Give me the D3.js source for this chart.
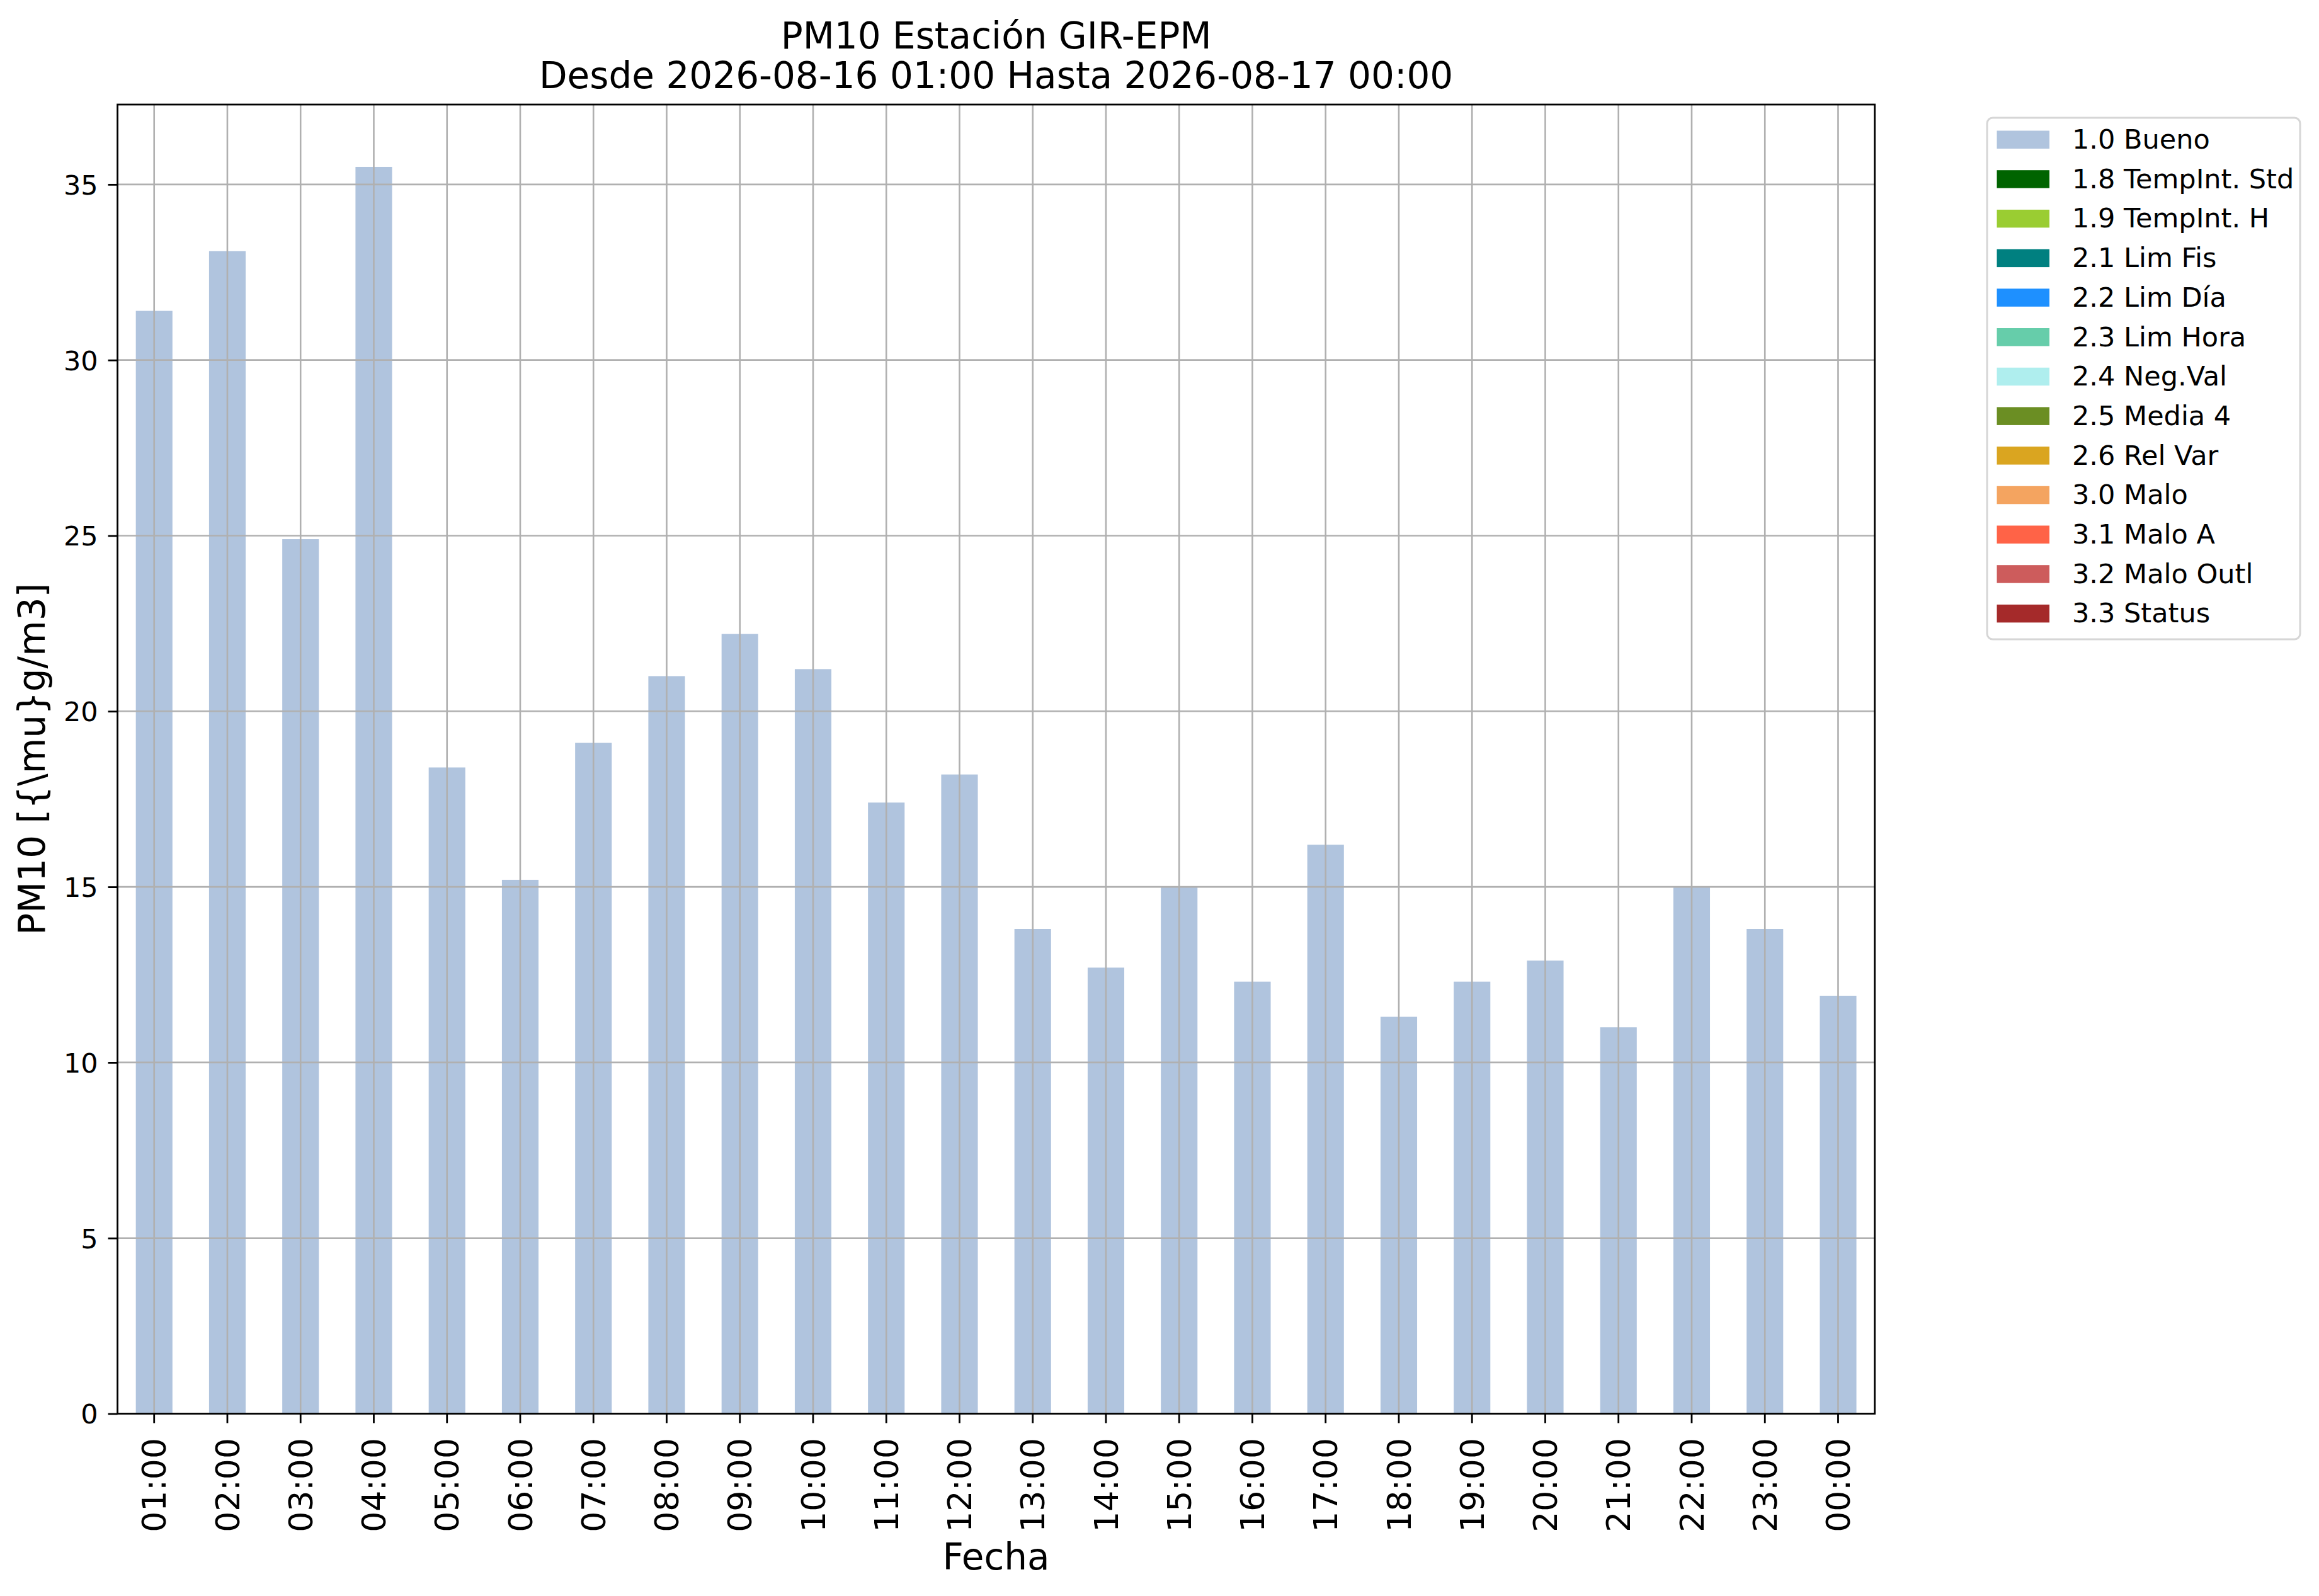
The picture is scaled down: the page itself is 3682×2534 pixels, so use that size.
<!DOCTYPE html>
<html>
<head>
<meta charset="utf-8">
<script src="https://cdn.jsdelivr.net/npm/d3@7/dist/d3.min.js"></script>
<style>
  html, body { margin: 0; padding: 0; background: #fff; }
  svg { display: block; font-family: "DejaVu Sans", sans-serif; }
</style>
</head>
<body>
<script>
// ---- data ----
const hours = ["01:00","02:00","03:00","04:00","05:00","06:00","07:00","08:00","09:00","10:00","11:00","12:00",
               "13:00","14:00","15:00","16:00","17:00","18:00","19:00","20:00","21:00","22:00","23:00","00:00"];
const pm10Bueno = [31.4,33.1,24.9,35.5,18.4,15.2,19.1,21.0,22.2,21.2,17.4,18.2,
                   13.8,12.7,15.0,12.3,16.2,11.3,12.3,12.9,11.0,15.0,13.8,11.9];
const yTicks = [0,5,10,15,20,25,30,35];
const legendLabels = ["1.0 Bueno","1.8 TempInt. Std","1.9 TempInt. H","2.1 Lim Fis","2.2 Lim Día","2.3 Lim Hora",
                      "2.4 Neg.Val","2.5 Media 4","2.6 Rel Var","3.0 Malo","3.1 Malo A","3.2 Malo Outl","3.3 Status"];
const legendColors = ["#b0c4de","#006400","#9acd32","#008080","#1e90ff","#66cdaa",
                      "#afeeee","#6b8e23","#daa520","#f4a460","#ff6347","#cd5c5c","#a52a2a"];
const titleLines = ["PM10 Estación GIR-EPM","Desde 2026-08-16 01:00 Hasta 2026-08-17 00:00"];
const xLabel = "Fecha";
const yLabel = "PM10 [{\\mu}g/m3]";

// ---- layout ----
const W = 3682, H = 2534;
const L = 186.6, R = 2976.6, T = 166, B = 2244.5;
const svg = d3.select("body").append("svg").attr("width", W).attr("height", H);
svg.append("rect").attr("width", W).attr("height", H).attr("fill", "#fff");

const x = d3.scaleBand().domain(hours).range([L, R]).paddingInner(0.5).paddingOuter(0.25);
const y = d3.scaleLinear().domain([0, d3.max(pm10Bueno) * 1.05]).range([B, T]);

// bars
svg.append("g").selectAll("rect").data(pm10Bueno).join("rect")
  .attr("x", (d, i) => x(hours[i]))
  .attr("width", x.bandwidth())
  .attr("y", d => y(d))
  .attr("height", d => y(0) - y(d))
  .attr("fill", legendColors[0]);

// grid (above bars)
const grid = svg.append("g").attr("stroke", "#b0b0b0").attr("stroke-width", 2.6);
grid.selectAll("line.v").data(hours).join("line")
  .attr("x1", d => x(d) + x.bandwidth() / 2).attr("x2", d => x(d) + x.bandwidth() / 2)
  .attr("y1", T).attr("y2", B);
grid.selectAll("line.h").data(yTicks).join("line")
  .attr("x1", L).attr("x2", R).attr("y1", d => y(d)).attr("y2", d => y(d));

// x axis
const xAxis = svg.append("g").attr("transform", `translate(0,${B})`)
  .call(d3.axisBottom(x).tickSize(15).tickSizeOuter(0));
xAxis.select(".domain").remove();
xAxis.selectAll(".tick line").attr("stroke", "#000").attr("stroke-width", 2.8);
xAxis.selectAll(".tick text")
  .attr("font-size", 52).attr("fill", "#000")
  .attr("font-family", "DejaVu Sans")
  .attr("transform", "rotate(-90)")
  .attr("text-anchor", "end")
  .attr("x", -(2283 - B))
  .attr("y", 0)
  .attr("dy", "0.36em");

// y axis
const yAxis = svg.append("g").attr("transform", `translate(${L},0)`)
  .call(d3.axisLeft(y).tickValues(yTicks).tickSize(15).tickSizeOuter(0).tickPadding(16));
yAxis.select(".domain").remove();
yAxis.selectAll(".tick line").attr("stroke", "#000").attr("stroke-width", 2.8);
yAxis.selectAll(".tick text").attr("font-size", 43).attr("fill", "#000")
  .attr("font-family", "DejaVu Sans").attr("dy", "0.36em");

// spines
svg.append("rect").attr("x", L).attr("y", T).attr("width", R - L).attr("height", B - T)
  .attr("fill", "none").attr("stroke", "#000").attr("stroke-width", 2.8);

// title
const cx = (L + R) / 2;
svg.append("text").attr("x", cx).attr("y", 76.5).attr("text-anchor", "middle")
  .attr("font-size", 58).text(titleLines[0]);
svg.append("text").attr("x", cx).attr("y", 140.3).attr("text-anchor", "middle")
  .attr("font-size", 58).text(titleLines[1]);

// axis labels
svg.append("text").attr("x", cx).attr("y", 2492).attr("text-anchor", "middle")
  .attr("font-size", 58).text(xLabel);
svg.append("text").attr("transform", `translate(71,${(T + B) / 2}) rotate(-90)`)
  .attr("text-anchor", "middle").attr("font-size", 58).text(yLabel);

// legend
const lg = svg.append("g");
lg.append("rect").attr("x", 3155).attr("y", 187).attr("width", 497).attr("height", 828)
  .attr("rx", 9).attr("ry", 9).attr("fill", "#fff").attr("fill-opacity", 0.8)
  .attr("stroke", "#d6d6d6").attr("stroke-width", 3);
const rows = lg.selectAll("g.row").data(legendLabels).join("g")
  .attr("transform", (d, i) => `translate(0,${222 + i * 62.7})`);
rows.append("rect").attr("x", 3170.5).attr("y", -14.5).attr("width", 83.5).attr("height", 28.5)
  .attr("fill", (d, i) => legendColors[i]);
rows.append("text").attr("x", 3290).attr("y", 14).attr("font-size", 43).text(d => d);
</script>
</body>
</html>
